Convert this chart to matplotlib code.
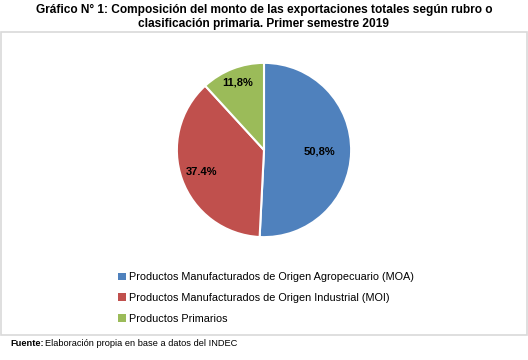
import numpy as np
import matplotlib.pyplot as plt
from matplotlib.patches import Rectangle, Patch

plt.rcParams['font.family'] = ['Liberation Sans', 'DejaVu Sans']

# datos
rubros = ['Productos Manufacturados de Origen Agropecuario (MOA)',
          'Productos Manufacturados de Origen Industrial (MOI)',
          'Productos Primarios']
valores = [50.8, 37.4, 11.8]
etiquetas = ['50,8%', '37.4%', '11,8%']
colores = ['#4F81BD', '#C0504D', '#9BBB59']

fig = plt.figure(figsize=(5.28, 3.6), dpi=100)

# marco gris
fig.patches.append(Rectangle((0.002, 0.069), 0.996, 0.842, transform=fig.transFigure,
                             fill=False, edgecolor='#D9D9D9', linewidth=1.2))

fig.text(0.5, 0.988, 'Gráfico N° 1: Composición del monto de las exportaciones totales según rubro o\n'
         'clasificación primaria. Primer semestre 2019',
         ha='center', va='top', fontsize=8.6, fontweight='bold', linespacing=1.2)

ax = fig.add_axes([176 / 528, 122 / 360, 176 / 528, 176 / 360])
wedges, _ = ax.pie(valores, colors=colores, startangle=90, counterclock=False,
                   wedgeprops=dict(edgecolor='white', linewidth=1.5))
ax.set_xlim(-1.01, 1.01)
ax.set_ylim(-1.01, 1.01)
ax.set_aspect('equal')

# posiciones de las etiquetas (distancia relativa al radio)
dist = [0.64, 0.76, 0.83]
for w, lab, d in zip(wedges, etiquetas, dist):
    ang = np.deg2rad((w.theta1 + w.theta2) / 2)
    ax.text(d * np.cos(ang), d * np.sin(ang), lab, ha='center', va='center',
            fontsize=8, fontweight='bold')

handles = [Patch(facecolor=c, edgecolor='none') for c in colores]
fig.legend(handles, rubros, loc='upper left', bbox_to_anchor=(114 / 528, 1 - 268 / 360),
           frameon=False, fontsize=7.8, handlelength=0.7, handleheight=0.7,
           handletextpad=0.3, labelspacing=0.98, borderaxespad=0)

t = fig.text(10 / 528, 1 - 344 / 360, 'Fuente:', fontsize=6.7, fontweight='bold', va='center')
fig.canvas.draw()
bb = t.get_window_extent()
fig.text(bb.x1 / fig.bbox.width + 0.003, 1 - 344 / 360, 'Elaboración propia en base a datos del INDEC',
         fontsize=6.7, va='center')

fig.savefig('out.png', dpi=100)
